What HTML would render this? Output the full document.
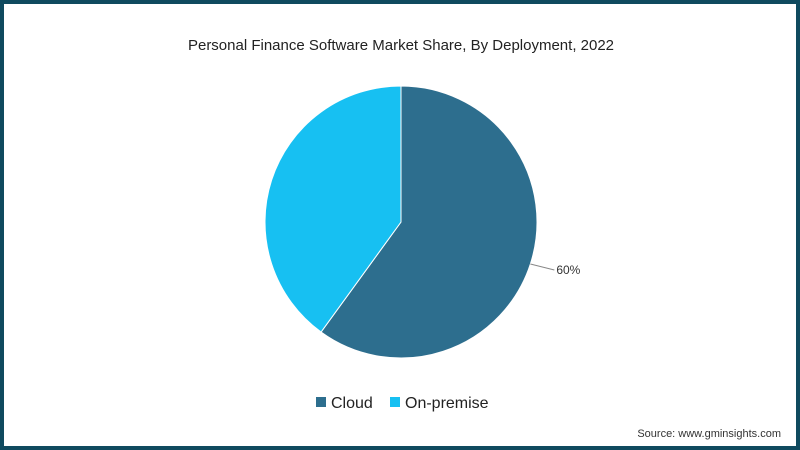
<!DOCTYPE html>
<html><head><meta charset="utf-8"><style>
body{margin:0;width:800px;height:450px;overflow:hidden;background:#fff;font-family:"Liberation Sans",sans-serif}
#frame{position:absolute;left:0;top:0;width:792px;height:442px;border:4px solid #0f4a5f;background:#fff}
</style></head><body>
<div id="frame"></div>
<svg width="800" height="450" style="position:absolute;left:0;top:0">
<text x="401" y="50" text-anchor="middle" font-size="15" fill="#222">Personal Finance Software Market Share, By Deployment, 2022</text>
<g id="pie"></g>
<g>
<rect x="316" y="397" width="10" height="10" fill="#2d6e8e"/>
<text x="331" y="408" font-size="16" fill="#222">Cloud</text>
<rect x="390" y="397" width="10" height="10" fill="#17c0f2"/>
<text x="405" y="408" font-size="16" fill="#222">On-premise</text>
</g>
<text x="781" y="437" text-anchor="end" font-size="11" fill="#333">Source: www.gminsights.com</text>
</svg>
<script>
const categories=["Cloud","On-premise"];
const values=[60,40];
const labels=["60%",""];
const colors=["#2d6e8e","#17c0f2"];
const cx=401,cy=222,r=136;
const g=document.getElementById('pie');
const ns="http://www.w3.org/2000/svg";
const total=values.reduce((a,b)=>a+b,0);
let a0=-Math.PI/2;
values.forEach((v,i)=>{
  const a1=a0+v/total*2*Math.PI;
  const large=(a1-a0)>Math.PI?1:0;
  const p=document.createElementNS(ns,'path');
  p.setAttribute('d',`M${cx},${cy}L${cx+r*Math.cos(a0)},${cy+r*Math.sin(a0)}A${r},${r} 0 ${large} 1 ${cx+r*Math.cos(a1)},${cy+r*Math.sin(a1)}Z`);
  p.setAttribute('fill',colors[i]);p.setAttribute('stroke','#fff');p.setAttribute('stroke-width','1');
  
  
  g.appendChild(p);
  if(labels[i]){
    const am=(a0+a1)/2;
    const x1=cx+r*Math.cos(am),y1=cy+r*Math.sin(am);
    const x2=x1+24,y2=y1+6;
    const l=document.createElementNS(ns,'path');
    l.setAttribute('d',`M${x1},${y1}L${x2},${y2}`);l.setAttribute('stroke','#888');l.setAttribute('fill','none');
    
    
    g.appendChild(l);
    const t=document.createElementNS(ns,'text');
    t.setAttribute('x',x2+2);t.setAttribute('y',y2+4);t.setAttribute('font-size','12');t.setAttribute('fill','#333');
    t.textContent=labels[i];
    
    
    g.appendChild(t);
  }
  a0=a1;
});
</script>
</body></html>
